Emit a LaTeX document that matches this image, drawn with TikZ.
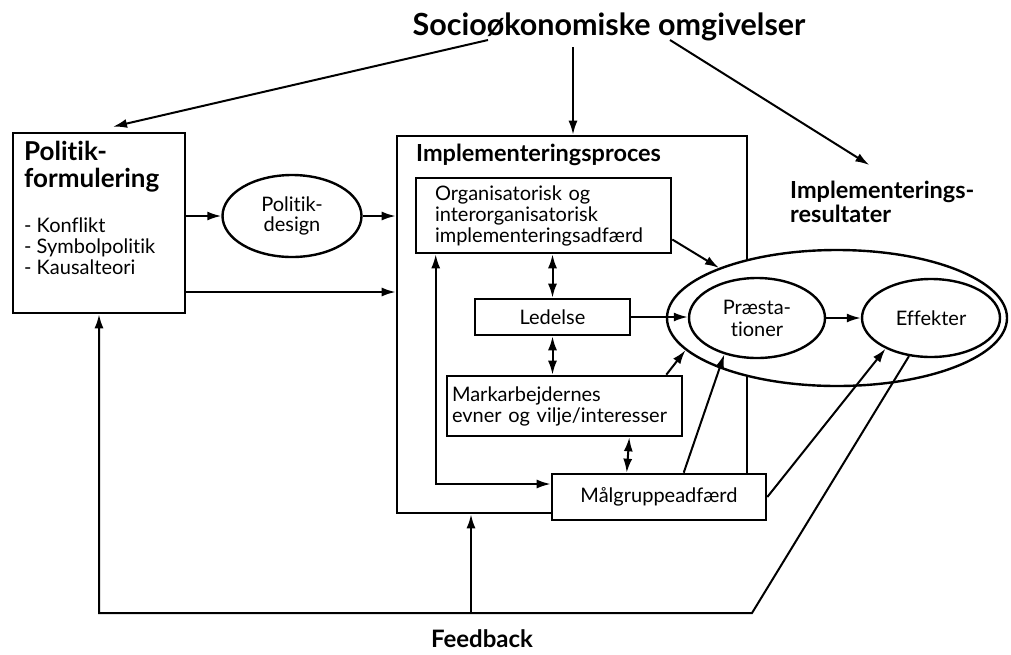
\documentclass[tikz,border=0pt]{standalone}
\usepackage{fontspec}
\setmainfont{Lato}[Ligatures=NoCommon]
\usetikzlibrary{shapes.geometric,arrows.meta}

\begin{document}
\begin{tikzpicture}[x=1pt,y=-1pt,
  every node/.style={font=\fontsize{20}{21}\selectfont, inner sep=0pt},
  boldhuge/.style={font=\bfseries\fontsize{30.5}{32}\selectfont},
  boldbig/.style={font=\bfseries\fontsize{26}{27}\selectfont},
  boldmid/.style={font=\bfseries\fontsize{23.5}{24}\selectfont},
  box/.style={draw, line width=2.6pt, fill=white, rectangle},
  oval/.style={draw, ellipse, line width=2.4pt, fill=white},
  conn/.style={line width=2pt},
  arr/.style={conn, -{Latex[length=14pt,width=9pt]}},
  darr/.style={conn, {Latex[length=14pt,width=9pt]}-{Latex[length=14pt,width=9pt]}},
]
\useasboundingbox (0,0) rectangle (1011,654);

% title and outcome label
\node[boldhuge] (title) at (609,27) {Socioøkonomiske omgivelser};
\node[boldmid, anchor=north west, align=left] (res) at (790,181) {Implementerings-\\resultater};

% policy formulation
\node[box, minimum width=172pt, minimum height=180pt] (pol) at (99,223) {};
\node[boldbig, anchor=north west, align=left] (polhead) at (24,141) {Politik-\\formulering};
\node[anchor=north west, align=left] (politems) at (24,218) {- Konflikt\\- Symbolpolitik\\- Kausalteori};
\node[oval, minimum width=139pt, minimum height=82pt, align=center, font=\fontsize{20}{20}\selectfont] (design) at (292,216) {Politik-\\design};

% implementation process
\node[box, minimum width=350pt, minimum height=377pt] (impl) at (572,324.5) {};
\node[boldmid, anchor=west] (impltxt) at (416,155) {Implementeringsproces};
\node[box, minimum width=255pt, minimum height=75pt, text width=217pt, align=left] (org) at (543.5,215.5)
  {Organisatorisk og\\interorganisatorisk\\implementeringsadfærd};
\node[box, minimum width=155pt, minimum height=36pt] (led) at (552.5,317) {Ledelse};
\node[box, minimum width=235pt, minimum height=60pt, text width=225pt, align=left] (mark) at (564.5,406)
  {Markarbejdernes\\evner og vilje/interesser};

% outcomes
\node[oval, minimum width=340pt, minimum height=136pt] (outer) at (837,318) {};
\node[oval, minimum width=136pt, minimum height=80pt, align=center, font=\fontsize{20}{22}\selectfont] (praest) at (757,318) {Præsta-\\tioner};
\node[oval, minimum width=138pt, minimum height=78pt] (eff) at (931,318) {Effekter};

\node[box, minimum width=214pt, minimum height=46pt] (mal) at (659,497) {Målgruppeadfærd};

\node[font=\bfseries\fontsize{24}{25}\selectfont] (fb) at (482,639) {Feedback};

% free ends of the connectors
\coordinate (tL) at (488,40);
\coordinate (tM) at (573,47);
\coordinate (tR) at (670,40);
\coordinate (fbL) at (99,613);
\coordinate (fbM) at (471,613);
\coordinate (fbR) at (752,613);

% socio-economic context
\draw[arr] (tL) -- ([xshift=14pt,yshift=5pt]pol.north);
\draw[arr] (tM) -- (tM |- impl.north);
\draw[arr] (tR) -- ([xshift=-13pt,yshift=16pt]res.north);

% policy into implementation
\draw[arr] ([yshift=7pt]pol.east) -- (design.west);
\draw[arr] (design.east) -- ([yshift=108.5pt]impl.west);
\draw[arr] ([yshift=-69pt]pol.east) -- ([yshift=32.5pt]impl.west);

% inside the implementation process
\draw[darr] (led.north) -- (led.north |- org.south);
\draw[darr] (led.south) -- (led.south |- mark.north);
\draw[darr] ([xshift=-54pt]mark.south east) -- ([xshift=76pt]mal.north west);
\draw[darr] ([xshift=21pt]org.south west) |- ([yshift=13pt]mal.west);

% towards the results
\draw[arr] ([yshift=-24pt]org.east) -- (outer.157);
\draw[arr] (led.east) -- (led.east -| praest.west);
\draw[arr] ([xshift=-17pt]mark.north east) -- (outer.192);
\draw[arr] ([xshift=133pt]mal.north west) -- (praest.228);
\draw[arr] (mal.east) -- (eff.214);
\draw[arr] (praest.east) -- (eff.west);

% feedback loop
\draw[arr] (eff.240) -- (fbR) -- (fbL) -- (pol.south);
\draw[arr] (fbM) -- (fbM |- impl.south);
\end{tikzpicture}
\end{document}
